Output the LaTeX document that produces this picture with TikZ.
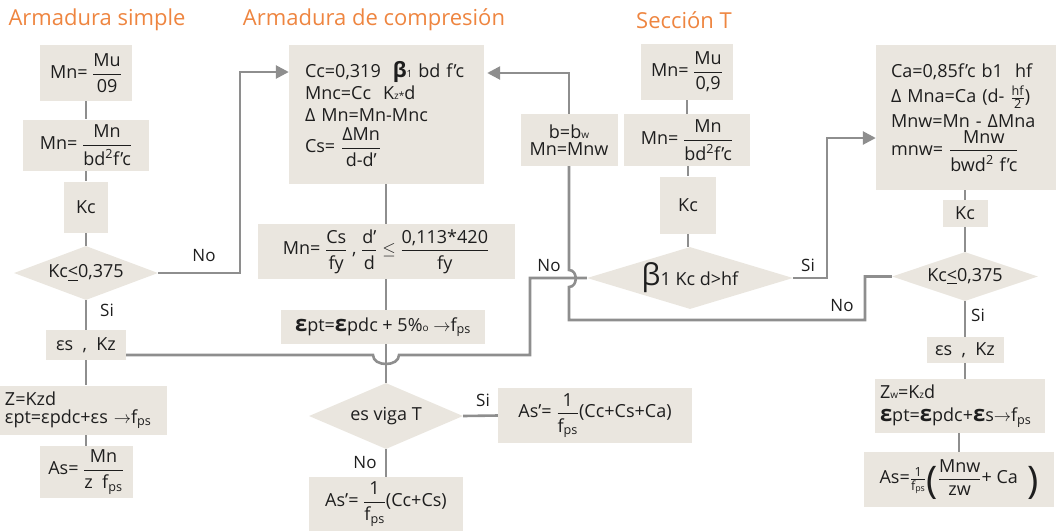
\documentclass[tikz,border=0pt]{standalone}
\usepackage{fontspec}
\usepackage{amsmath}
\setmainfont{Open Sans}
\usetikzlibrary{shapes.geometric,arrows.meta}
\pgfdeclarelayer{bg}
\pgfsetlayers{bg,main}
\definecolor{boxc}{HTML}{EAE6DF}
\definecolor{linec}{HTML}{8E8E8E}
\definecolor{titc}{HTML}{EE8540}
\definecolor{txtc}{HTML}{1E1E1E}
\newcommand\nf{\fontsize{18}{22}\selectfont}
\newcommand\fr[2]{$\dfrac{\text{\raisebox{0pt}[\height][\dimexpr\depth+2.5pt]{#1}}}{\text{\raisebox{0pt}[\dimexpr\height+2.5pt][\depth]{#2}}}$}
\newcommand\fps{f\textsubscript{ps}}
\newcommand\sm[1]{{\fontsize{10}{10}\selectfont #1}}
\newcommand\beps{{\fontsize{22}{22}\selectfont\bfseries ε}}
\newcommand\kle{\underline{<}}
\tikzset{
  box/.style={fill=boxc, inner sep=0pt, text=txtc, font=\nf, align=center},
  dia/.style={diamond, fill=boxc, inner sep=0pt, shape aspect=2.6, text=txtc, font=\nf},
  sz/.style 2 args={minimum width=#1pt, minimum height=#2pt},
  ln/.style={draw=linec, line width=2.6pt},
  arr/.style={-{Triangle[length=13pt,width=13pt]}},
  ttl/.style={text=titc, font=\fontsize{22}{26}\selectfont, inner sep=0pt},
  lbl/.style={text=txtc, font=\fontsize{17}{20}\selectfont, inner sep=0pt}
}
\begin{document}
\begin{tikzpicture}[x=1pt,y=-1pt]
\useasboundingbox (0,0) rectangle (1056,531);
% titles
\node[ttl] (t1) at (97,20) {Armadura simple};
\node[ttl] (t2) at (374,20) {Armadura de compresión};
\node[ttl] (t3) at (684,20) {Sección T};
% left column
\node[box,sz={92}{56}] (b1) at (86,73) {Mn= \fr{Mu}{09}};
\node[box,sz={126}{51}] (b2) at (86,145) {Mn= \fr{Mn}{bd\textsuperscript{2}f'c}};
\node[box,sz={44}{51}] (b3) at (86,207) {Kc};
\node[dia,sz={144}{54}] (d1) at (86,273) {Kc\kle0,375};
\node[box,sz={80}{30}] (es1) at (86,345) {εs \ , \ Kz};
\node[box,sz={167}{49},align=left,text width=157pt] (z1) at (83.5,410) {Z=Kzd\\[-4pt]εpt=εpdc+εs $\rightarrow$\fps};
\node[box,sz={93}{52}] (as1) at (86,472) {As= \fr{Mn}{z \ \fps}};
% middle column
\node[box,sz={195}{139},align=left,text width=163pt] (cbox) at (386.5,114.5)
 {Cc=0,319 \ {\fontsize{21}{21}\selectfont\bfseries β}\sm{1} bd f'c\\[0pt]
  Mnc=Cc \ K\sm{z}\sm{*}d\\[0pt]
  Δ Mn=Mn-Mnc\\[5pt]
  Cs= \fr{ΔMn}{d-d'}};
\node[box,sz={257}{55}] (mn) at (386,251.5) {Mn= \fr{Cs}{fy} , \fr{d'}{d} $\leq$ \fr{0,113*420}{fy}};
\node[box,sz={204}{34}] (eps) at (383,327) {\beps pt=\beps pdc + 5\%\sm{o} $\rightarrow$\fps};
\node[dia,sz={154}{66}] (vt) at (386,416) {es viga T};
\node[box,sz={194}{55}] (asa) at (595,415.5) {As'= \fr{1}{\fps}(Cc+Cs+Ca)};
\node[box,sz={154}{54}] (asb) at (386,504) {As'= \fr{1}{\fps}(Cc+Cs)};
% seccion T
\node[box,sz={92}{56}] (s1) at (687,72) {Mn= \fr{Mu}{0,9}};
\node[box,sz={126}{52}] (s2) at (687,140) {Mn= \fr{Mn}{bd\textsuperscript{2}f'c}};
\node[box,sz={56}{57}] (s3) at (688,205) {Kc};
\node[dia,sz={206}{62},shape aspect=3.3] (beta) at (690,278) {{\fontsize{30}{30}\selectfont β}1 Kc d>hf};
\node[box,sz={97}{52}] (bw) at (569,140) {b=b\sm{w}\\[-5pt]Mn=Mnw};
% right column
\node[box,sz={180}{145},align=left,text width=150pt] (rbox) at (966,117.5)
 {Ca=0,85f'c b1 \ hf\\[3pt]
  Δ Mna=Ca (d- $\frac{\text{hf}}{\text{2}}$)\\[3pt]
  Mnw=Mn - ΔMna\\[2pt]
  mnw= \fr{Mnw}{bwd\textsuperscript{2} f'c}};
\node[box,sz={45}{27}] (kc2) at (965,213.5) {Kc};
\node[dia,sz={146}{49}] (d2) at (965,276.5) {Kc\kle0,375};
\node[box,sz={77}{26}] (es2) at (965,350) {εs \ , \ Kz};
\node[box,sz={170}{54},align=left,text width=160pt] (zw) at (960,406) {Z\sm{w}=K\sm{z}d\\[1pt]\beps pt=\beps pdc+\beps s$\rightarrow$\fps};
\node[box,sz={190}{55}] (as2) at (959,479.5) {As=$\frac{\text{1}}{\text{\fps}}$\raisebox{-10pt}{\fontsize{38}{38}\selectfont (}\fr{Mnw}{zw}+ Ca \ \raisebox{-10pt}{\fontsize{38}{38}\selectfont )}};
% labels
\node[lbl] (l1) at (204,256) {No};
\node[lbl] (l2) at (107,310) {Si};
\node[lbl] (l3) at (549,266) {No};
\node[lbl] (l4) at (808,265) {Si};
\node[lbl] (l5) at (842,306) {No};
\node[lbl] (l6) at (978,315) {Si};
\node[lbl] (l7) at (483,400) {Si};
\node[lbl] (l8) at (365,463) {No};
\begin{pgfonlayer}{bg}
% left
\draw[ln] (b1) -- (b2);
\draw[ln] (b2) -- (b3);
\draw[ln] (b3) -- (d1);
\draw[ln] (d1) -- (es1);
\draw[ln] (es1.south) -- (es1.south |- z1.north);
\draw[ln] (as1.north |- z1.south) -- (as1.north);
\draw[ln,arr] (d1.east) -- (240,273) -- (240,72) -- (cbox.west |- 240,72);
\draw[ln] (es1.east |- 0,355) -- (373,355) .. controls (373,367) and (399,367) .. (399,355) -- (530,355) -- (530,278) -- (beta.west);
% middle
\draw[ln] (cbox.south -| mn.north) -- (mn.north);
\draw[ln] (mn.south) -- (mn.south |- eps.north);
\draw[ln] (mn.south |- eps.south) -- (vt.north);
\draw[ln] (vt.east) -- (asa.west);
\draw[ln] (vt.south) -- (asb.north);
% seccion T
\draw[ln] (s1) -- (s2);
\draw[ln] (s2.south -| s3.north) -- (s3.north);
\draw[ln] (s3.south) -- (s3.south |- beta.north);
\draw[ln,arr] (beta.east) -- (827,278) -- (827,138) -- (rbox.west |- 827,138);
\draw[ln] (d2.west) -- (865,276.5) -- (865,320) -- (569,320) -- (569,287) .. controls (578,287) and (578,270) .. (569,270) -- (bw.south);
\draw[ln,arr,shorten >=3pt] (bw.north) -- (569,73) -- (cbox.east |- 569,73);
% right
\draw[ln] (rbox.south -| kc2.north) -- (kc2.north);
\draw[ln] (kc2) -- (d2);
\draw[ln] (d2) -- (es2);
\draw[ln] (es2.south) -- (es2.south |- zw.north);
\draw[ln] (as2.north |- zw.south) -- (as2.north);
\end{pgfonlayer}
\end{tikzpicture}
\end{document}
